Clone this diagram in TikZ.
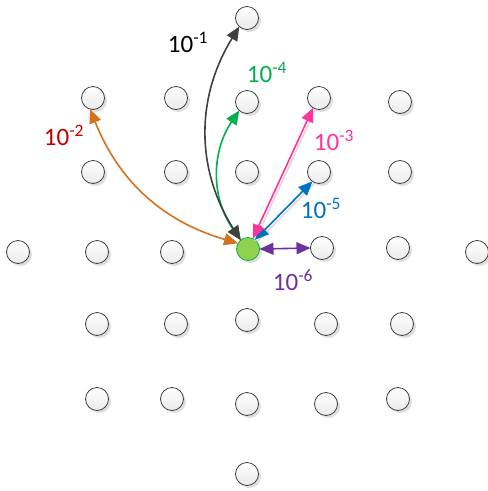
\documentclass[tikz,border=0pt]{standalone}
\usepackage{fontspec}
\setmainfont{Carlito}
\usetikzlibrary{arrows.meta,shadows}
\definecolor{cblack}{HTML}{404040}
\definecolor{cgreen}{HTML}{00B050}
\definecolor{cred}{HTML}{C00000}
\definecolor{cpink}{HTML}{FF3399}
\definecolor{cblue}{HTML}{0070C0}
\definecolor{cpurple}{HTML}{7030A0}
\definecolor{corange}{HTML}{D6711F}
\definecolor{clime}{HTML}{92D050}
\tikzset{
  dot/.style={circle, draw=black!75, line width=0.8pt, minimum size=23pt, inner sep=0pt, outer sep=0pt,
    top color=white, bottom color=black!8,
    drop shadow={shadow xshift=2.5pt, shadow yshift=-2.5pt, fill=black, opacity=0.13}},
  src/.style={circle, draw=cgreen, line width=0.8pt, minimum size=23pt, inner sep=0pt, outer sep=0pt, fill=clime,
    drop shadow={shadow xshift=2.5pt, shadow yshift=-2.5pt, fill=black, opacity=0.13}},
  conn/.style={line width=1.6pt, {Triangle[length=14pt,width=12pt]}-{Triangle[length=14pt,width=12pt]}},
  lbl/.style={font=\fontsize{25}{28}\selectfont, inner sep=0pt}
}
\begin{document}
\begin{tikzpicture}[x=1pt,y=1pt]
\useasboundingbox (0,0) rectangle (488,-491);
% row 0
\node[dot] (t) at (247,-18) {};
% row 1
\node[dot] (a1) at (93,-98) {};
\node[dot] (a2) at (176,-98) {};
\node[dot] (a3) at (247,-102) {};
\node[dot] (a4) at (319,-98) {};
\node[dot] (a5) at (400,-102) {};
% row 2
\node[dot] (b1) at (93,-172) {};
\node[dot] (b2) at (176,-172) {};
\node[dot] (b3) at (247,-172) {};
\node[dot] (b4) at (319,-172) {};
\node[dot] (b5) at (400,-172) {};
% row 3
\node[dot] (c1) at (18,-252) {};
\node[dot] (c2) at (97,-252) {};
\node[dot] (c3) at (172,-252) {};
\node[src] (g) at (248,-249) {};
\node[dot] (c5) at (322,-248) {};
\node[dot] (c6) at (398,-248) {};
\node[dot] (c7) at (477,-252) {};
% row 4
\node[dot] (d1) at (97,-324) {};
\node[dot] (d2) at (176,-324) {};
\node[dot] (d3) at (247,-320) {};
\node[dot] (d4) at (326,-324) {};
\node[dot] (d5) at (402,-324) {};
% row 5
\node[dot] (e1) at (97,-399) {};
\node[dot] (e2) at (172,-399) {};
\node[dot] (e3) at (247,-404) {};
\node[dot] (e4) at (326,-404) {};
\node[dot] (e5) at (398,-399) {};
% row 6
\node[dot] (f) at (247,-474) {};

% connectors
\draw[conn, corange] (g.150) to[bend left=26] (a1.255);
\draw[conn, cgreen] (g.128) to[bend left=35] (a3.228);
\draw[conn, cblack] (g.130) to[bend left=32] (t.228);
\draw[line width=1.6pt, black!15, transform canvas={xshift=2pt,yshift=-2pt}] (g.65) -- (a4.239);
\draw[line width=1.6pt, black!15, transform canvas={xshift=2pt,yshift=-2pt}] (g.53) -- (b4.235);
\draw[conn, cblue] (g.53) -- (b4.235);
\draw[conn, cpink] (g.65) -- (a4.239);
\draw[conn, cpurple] (g.east) -- (c5.west);

% labels
\node[lbl, text=black] (l1) at (188,-42) {10\textsuperscript{-1}};
\node[lbl, text=cgreen] (l4) at (267,-72) {10\textsuperscript{-4}};
\node[lbl, text=cred] (l2) at (64,-135) {10\textsuperscript{-2}};
\node[lbl, text=cpink] (l3) at (334,-140) {10\textsuperscript{-3}};
\node[lbl, text=cblue] (l5) at (321,-208) {10\textsuperscript{-5}};
\node[lbl, text=cpurple] (l6) at (293,-280) {10\textsuperscript{-6}};
\end{tikzpicture}
\end{document}
